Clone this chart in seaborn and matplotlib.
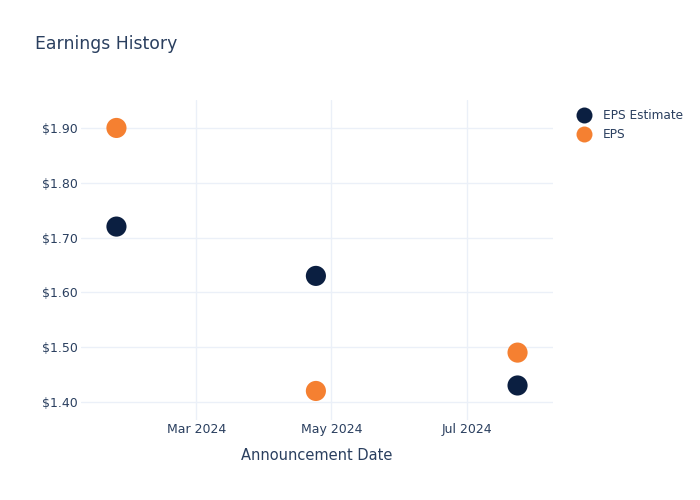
import matplotlib
matplotlib.use("Agg")
import matplotlib.pyplot as plt
import matplotlib.dates as mdates
import seaborn as sns
import pandas as pd
import numpy as np
from matplotlib.lines import Line2D

dates = ["2024-01-25", "2024-04-24", "2024-07-24"]
eps_estimate = [1.72, 1.63, 1.43]
eps_actual = [1.90, 1.42, 1.49]
series_names = ["EPS Estimate", "EPS"]
colors = ["#0b1f41", "#f58031"]

df = pd.DataFrame({
    "date": pd.to_datetime(dates * 2),
    "value": eps_estimate + eps_actual,
    "series": [series_names[0]] * 3 + [series_names[1]] * 3,
})

sns.set_theme(style="white")
plt.rcParams['font.family'] = ['DejaVu Sans']
text_color = "#2a3f5f"
grid_color = "#ebf0f8"

fig = plt.figure(figsize=(7, 5), dpi=100)
ax = fig.add_axes([81/700, 80/500, 472/700, 320/500])

sns.scatterplot(data=df, x="date", y="value", hue="series", palette=colors,
                s=210, edgecolor="none", ax=ax, legend=False, zorder=3)

ax.set_ylim(1.367, 1.951)
ax.set_xlim(pd.Timestamp("2024-01-09"), pd.Timestamp("2024-08-09"))
yt = [1.4, 1.5, 1.6, 1.7, 1.8, 1.9]
ax.set_yticks(yt)
ax.set_yticklabels([f"${v:.2f}" for v in yt])
ax.set_xticks(pd.to_datetime(["2024-03-01", "2024-05-01", "2024-07-01"]))
ax.xaxis.set_major_formatter(mdates.DateFormatter("%b %Y"))
ax.grid(True, color=grid_color, linewidth=1)
ax.set_axisbelow(True)
for s in ax.spines.values():
    s.set_visible(False)
ax.tick_params(axis="y", length=0, labelsize=9, colors=text_color, pad=2)
ax.tick_params(axis="x", length=0, labelsize=9, colors=text_color, pad=2)
ax.set_xlabel("Announcement Date", color=text_color, fontsize=10.5, labelpad=9)
ax.set_ylabel("")

fig.text(35/700, 1 - 44/500, "Earnings History", color=text_color, fontsize=12.4, va="center")

handles = [Line2D([0], [0], marker="o", linestyle="", markersize=11.5,
                  markerfacecolor=c, markeredgecolor="none") for c in colors]
leg = fig.legend(handles, series_names, loc="upper left",
                 bbox_to_anchor=(567/700, 1 - 104/500), frameon=False,
                 fontsize=8.7, handletextpad=0.55, labelspacing=0.55, borderaxespad=0)
for t in leg.get_texts():
    t.set_color(text_color)

fig.savefig("out.png", dpi=100)
